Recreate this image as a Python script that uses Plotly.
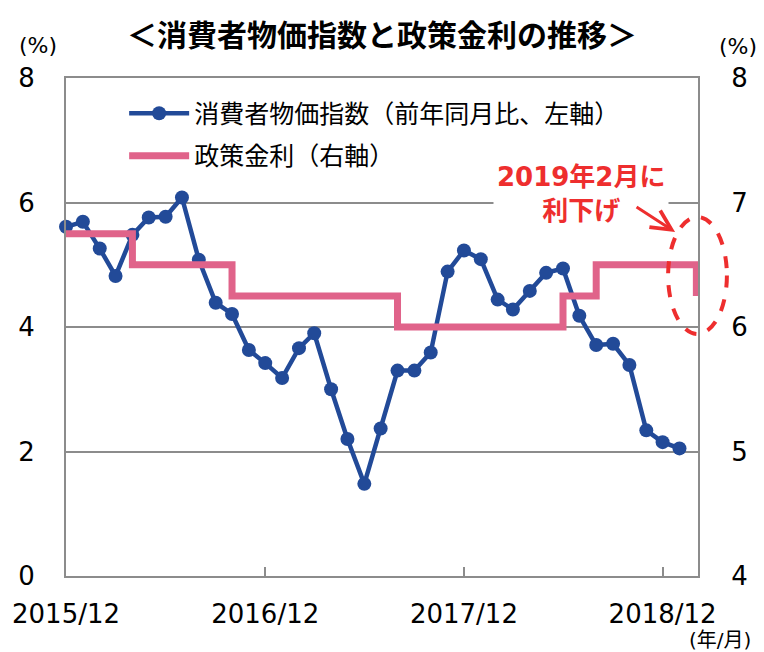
import pandas as pd
import plotly.graph_objects as go

# ---- data ----
cpi_start = "2015-12-01"
cpi_values = [5.61, 5.69, 5.26, 4.82, 5.48, 5.76, 5.77, 6.08, 5.08, 4.39,
              4.21, 3.63, 3.42, 3.18, 3.66, 3.90, 3.00, 2.20, 1.48, 2.37,
              3.30, 3.30, 3.59, 4.89, 5.23, 5.09, 4.44, 4.28, 4.58, 4.87,
              4.94, 4.18, 3.71, 3.73, 3.39, 2.34, 2.15, 2.05]
cpi_months = pd.date_range(cpi_start, periods=len(cpi_values), freq="MS")

rate_dates = ["2015-12-01", "2016-04-01", "2016-10-01", "2017-08-01",
              "2018-06-01", "2018-08-01", "2019-02-01"]
rate_levels = [6.75, 6.50, 6.25, 6.00, 6.25, 6.50, 6.25]

x_tick_vals = ["2015-12-01", "2016-12-01", "2017-12-01", "2018-12-01"]
x_tick_text = ["2015/12", "2016/12", "2017/12", "2018/12"]

title_text = "＜消費者物価指数と政策金利の推移＞"
cpi_name = "消費者物価指数（前年同月比、左軸）"
rate_name = "政策金利（右軸）"
note_text = "2019年2月に<br>利下げ"

BLUE = "#224a98"
PINK = "#e0638a"
RED = "#ee2e2e"
GRAY = "#8c8c8c"
FONT = "DejaVu Sans, Noto Sans CJK JP"

fig = go.Figure()
fig.add_trace(go.Scatter(
    x=cpi_months, y=cpi_values, name=cpi_name, mode="lines+markers",
    line=dict(color=BLUE, width=4.5), marker=dict(color=BLUE, size=14),
    cliponaxis=False, yaxis="y", legendgroup="a"))
fig.add_trace(go.Scatter(
    x=rate_dates, y=rate_levels, name=rate_name, mode="lines",
    line=dict(color=PINK, width=7, shape="hv"), yaxis="y2", legendgroup="b"))

fig.update_layout(
    width=764, height=652,
    margin=dict(l=64, r=66, t=78, b=76),
    paper_bgcolor="white", plot_bgcolor="white",
    font=dict(family=FONT, color="black", size=24),
    title=dict(text="<b>" + title_text + "</b>", x=0.5, xanchor="center",
               y=1 - 35 / 652, yanchor="middle",
               font=dict(size=30, family=FONT, color="black")),
    xaxis=dict(type="date", range=["2015-12-01", "2019-02-04"],
               tickvals=x_tick_vals, ticktext=x_tick_text,
               ticks="inside", ticklen=9, tickwidth=1.5, tickcolor=GRAY,
               showline=True, linecolor=GRAY, linewidth=2, mirror=True,
               showgrid=False, zeroline=False, ticklabelstandoff=14,
               tickfont=dict(size=26, family=FONT)),
    yaxis=dict(range=[0, 8], dtick=2, showgrid=True, gridcolor=GRAY,
               gridwidth=1.5, showline=True, linecolor=GRAY, linewidth=2,
               zeroline=False, ticks="", ticklabelstandoff=24,
               tickfont=dict(size=26, family=FONT)),
    yaxis2=dict(range=[4, 8], dtick=1, overlaying="y", side="right",
                showgrid=False, showline=True, linecolor=GRAY, linewidth=2,
                zeroline=False, ticks="", ticklabelstandoff=26,
                tickfont=dict(size=26, family=FONT)),
    legend=dict(x=0.092, y=0.975, xanchor="left", yanchor="top",
                bgcolor="rgba(0,0,0,0)", itemwidth=60, traceorder="grouped",
                font=dict(size=25, family=FONT), tracegroupgap=7),
    showlegend=True,
)

# annotation box with note
fig.add_annotation(
    xref="paper", yref="paper", x=(581 - 64) / 634, y=(576 - 194) / 498,
    text="<b>" + note_text + "</b>", showarrow=False, align="center",
    font=dict(size=26, color=RED, family=FONT), bgcolor="white",
    borderpad=3, xanchor="center", yanchor="middle")
# arrow
fig.add_annotation(
    xref="paper", yref="paper", x=(675 - 64) / 634, y=(576 - 232) / 498,
    ax=-40, ay=-26, text="", showarrow=True, arrowhead=5, arrowsize=1.3,
    arrowwidth=3, arrowcolor=RED)
# dashed ellipse
fig.add_shape(type="circle", xref="paper", yref="paper",
              x0=(668 - 64) / 634, x1=(727 - 64) / 634,
              y0=(576 - 334) / 498, y1=(576 - 217) / 498,
              line=dict(color=RED, width=4, dash="dash"))

# unit labels
fig.add_annotation(xref="paper", yref="paper", x=(36 - 64) / 634,
                   y=(576 - 45) / 498, text="(%)", showarrow=False,
                   font=dict(size=22, family=FONT), xanchor="center", yanchor="middle")
fig.add_annotation(xref="paper", yref="paper", x=(738 - 64) / 634,
                   y=(576 - 47) / 498, text="(%)", showarrow=False,
                   font=dict(size=22, family=FONT), xanchor="center", yanchor="middle")
fig.add_annotation(xref="paper", yref="paper", x=(720 - 64) / 634,
                   y=(576 - 640) / 498, text="(年/月)", showarrow=False,
                   font=dict(size=20, family=FONT), xanchor="center", yanchor="middle")

fig.write_html("out.html", config={"displayModeBar": False},
               post_script="document.body.style.margin='0px';")
